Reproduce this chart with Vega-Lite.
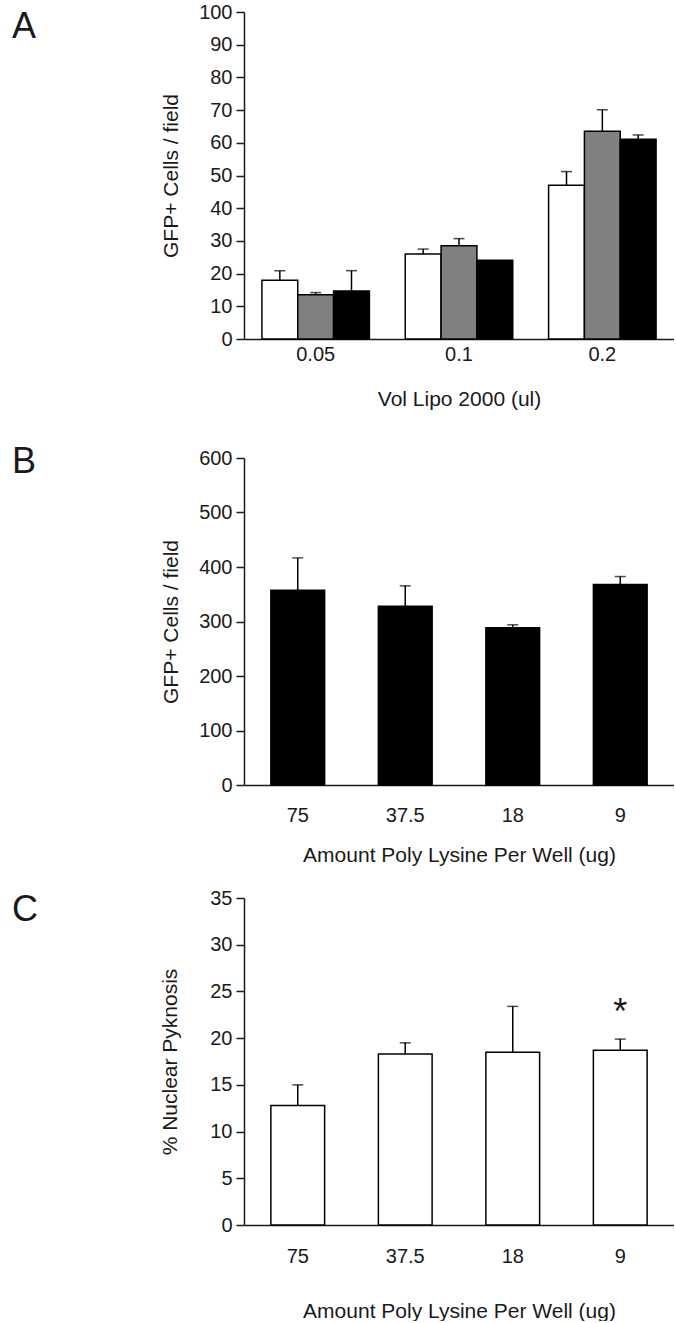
{
  "$schema": "https://vega.github.io/schema/vega-lite/v6.json",
  "padding": {"left": 12, "top": 2, "right": 0, "bottom": 0},
  "background": "white",
  "config": {
    "font": "Liberation Sans",
    "view": {"stroke": null},
    "axis": {"grid": false, "domainColor": "#1a1a1a", "domainWidth": 1.5, "tickColor": "#1a1a1a", "tickWidth": 1.5, "labelFontSize": 20, "labelColor": "#1a1a1a", "titleFontSize": 21, "titleFontWeight": "normal", "titleColor": "#1a1a1a", "labelFont": "Liberation Sans", "titleFont": "Liberation Sans", "labelOverlap": false},
    "axisY": {"tickSize": 8, "labelPadding": 4},
    "axisX": {"ticks": false, "tickSize": 0, "labelAngle": 0},
    "title": {"font": "Liberation Sans", "fontSize": 36, "fontWeight": "normal", "anchor": "start", "frame": "group", "dx": -232, "color": "#1a1a1a", "baseline": "alphabetic", "offset": 0}
  },
  "bounds": "flush",
  "spacing": 119,
  "vconcat": [
    {
      "title": {"text": "A", "dy": 48},
      "width": 430,
      "height": 327,
      "data": {"values": [
        {"vol": "0.05", "series": "s1", "value": 18.0, "upper": 20.9},
        {"vol": "0.05", "series": "s2", "value": 13.5, "upper": 14.2},
        {"vol": "0.05", "series": "s3", "value": 14.7, "upper": 20.9},
        {"vol": "0.1", "series": "s1", "value": 26.0, "upper": 27.5},
        {"vol": "0.1", "series": "s2", "value": 28.5, "upper": 30.7},
        {"vol": "0.1", "series": "s3", "value": 24.1, "upper": null},
        {"vol": "0.2", "series": "s1", "value": 47.0, "upper": 51.2},
        {"vol": "0.2", "series": "s2", "value": 63.5, "upper": 70.1},
        {"vol": "0.2", "series": "s3", "value": 61.1, "upper": 62.4}
      ]},
      "encoding": {
        "x": {"field": "vol", "type": "nominal", "scale": {"paddingInner": 0.25, "paddingOuter": 0.125}, "axis": {"title": "Vol Lipo 2000 (ul)", "labelPadding": 5, "titlePadding": 24}},
        "xOffset": {"field": "series", "type": "nominal", "scale": {"paddingInner": 0, "paddingOuter": 0}}
      },
      "layer": [
        {
          "mark": {"type": "bar", "stroke": "black", "strokeWidth": 1.5},
          "encoding": {
            "y": {"field": "value", "type": "quantitative", "title": "GFP+ Cells / field", "scale": {"domain": [0, 100], "nice": false}, "axis": {"values": [0, 10, 20, 30, 40, 50, 60, 70, 80, 90, 100], "titlePadding": 17}},
            "fill": {"field": "series", "type": "nominal", "scale": {"domain": ["s1", "s2", "s3"], "range": ["white", "#808080", "black"]}, "legend": null}
          }
        },
        {
          "transform": [{"filter": "datum.upper != null"}],
          "mark": {"type": "rule", "strokeWidth": 1.5, "color": "black"},
          "encoding": {"y": {"field": "value", "type": "quantitative", "title": "GFP+ Cells / field", "axis": {"values": [0, 10, 20, 30, 40, 50, 60, 70, 80, 90, 100], "titlePadding": 17}}, "y2": {"field": "upper"}}
        },
        {
          "transform": [{"filter": "datum.upper != null"}],
          "mark": {"type": "tick", "size": 11, "thickness": 1.5, "color": "black"},
          "encoding": {"y": {"field": "upper", "type": "quantitative", "title": "GFP+ Cells / field", "axis": {"values": [0, 10, 20, 30, 40, 50, 60, 70, 80, 90, 100], "titlePadding": 17}}}
        }
      ]
    },
    {
      "bounds": "flush",
      "spacing": 113,
      "vconcat": [
        {
          "title": {"text": "B", "dy": 37},
          "width": 430,
          "height": 327,
          "data": {"values": [
            {"amount": "75", "value": 357.4, "upper": 416.7},
            {"amount": "37.5", "value": 328.1, "upper": 365.4},
            {"amount": "18", "value": 288.4, "upper": 293.9},
            {"amount": "9", "value": 367.8, "upper": 382.5}
          ]},
          "encoding": {
            "x": {"field": "amount", "type": "nominal", "sort": ["75", "37.5", "18", "9"], "scale": {"paddingInner": 0.5, "paddingOuter": 0.25}, "axis": {"title": "Amount Poly Lysine Per Well (ug)", "labelPadding": 20, "titlePadding": 19}}
          },
          "layer": [
            {
              "mark": {"type": "bar", "fill": "black", "stroke": "black", "strokeWidth": 1.5},
              "encoding": {"y": {"field": "value", "type": "quantitative", "title": "GFP+ Cells / field", "scale": {"domain": [0, 600], "nice": false}, "axis": {"values": [0, 100, 200, 300, 400, 500, 600], "titlePadding": 17}}}
            },
            {
              "mark": {"type": "rule", "strokeWidth": 1.5, "color": "black"},
              "encoding": {"y": {"field": "value", "type": "quantitative", "title": "GFP+ Cells / field", "axis": {"values": [0, 100, 200, 300, 400, 500, 600], "titlePadding": 17}}, "y2": {"field": "upper"}}
            },
            {
              "mark": {"type": "tick", "size": 11, "thickness": 1.5, "color": "black"},
              "encoding": {"y": {"field": "upper", "type": "quantitative", "title": "GFP+ Cells / field", "axis": {"values": [0, 100, 200, 300, 400, 500, 600], "titlePadding": 17}}}
            }
          ]
        },
        {
          "title": {"text": "C", "dy": 45},
          "width": 430,
          "height": 327,
          "data": {"values": [
            {"amount": "75", "value": 12.8, "upper": 15.0, "sig": ""},
            {"amount": "37.5", "value": 18.3, "upper": 19.5, "sig": ""},
            {"amount": "18", "value": 18.5, "upper": 23.4, "sig": ""},
            {"amount": "9", "value": 18.7, "upper": 19.9, "sig": "*"}
          ]},
          "encoding": {
            "x": {"field": "amount", "type": "nominal", "sort": ["75", "37.5", "18", "9"], "scale": {"paddingInner": 0.5, "paddingOuter": 0.25}, "axis": {"title": "Amount Poly Lysine Per Well (ug)", "labelPadding": 21, "titlePadding": 34}}
          },
          "layer": [
            {
              "mark": {"type": "bar", "fill": "white", "stroke": "black", "strokeWidth": 1.5},
              "encoding": {"y": {"field": "value", "type": "quantitative", "title": "% Nuclear Pyknosis", "scale": {"domain": [0, 35], "nice": false}, "axis": {"values": [0, 5, 10, 15, 20, 25, 30, 35], "titlePadding": 29}}}
            },
            {
              "mark": {"type": "rule", "strokeWidth": 1.5, "color": "black"},
              "encoding": {"y": {"field": "value", "type": "quantitative", "title": "% Nuclear Pyknosis", "axis": {"values": [0, 5, 10, 15, 20, 25, 30, 35], "titlePadding": 29}}, "y2": {"field": "upper"}}
            },
            {
              "mark": {"type": "tick", "size": 11, "thickness": 1.5, "color": "black"},
              "encoding": {"y": {"field": "upper", "type": "quantitative", "title": "% Nuclear Pyknosis", "axis": {"values": [0, 5, 10, 15, 20, 25, 30, 35], "titlePadding": 29}}}
            },
            {
              "transform": [{"filter": "datum.sig == '*'"}],
              "mark": {"type": "text", "fontSize": 36, "dy": -15, "baseline": "alphabetic", "font": "Liberation Sans", "color": "#1a1a1a"},
              "encoding": {"y": {"field": "upper", "type": "quantitative", "title": "% Nuclear Pyknosis", "axis": {"values": [0, 5, 10, 15, 20, 25, 30, 35], "titlePadding": 29}}, "text": {"field": "sig"}}
            }
          ]
        }
      ]
    }
  ]
}
